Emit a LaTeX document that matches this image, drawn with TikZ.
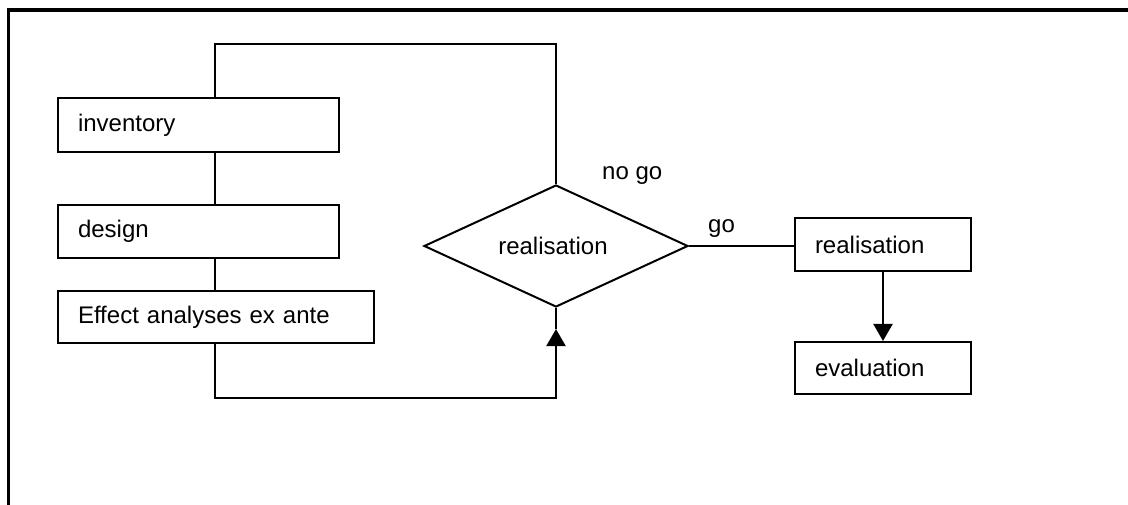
\documentclass[tikz,border=0pt]{standalone}
\usepackage{fontspec}
\setmainfont{Liberation Sans}
\usetikzlibrary{shapes.geometric,arrows.meta,calc}
\begin{document}
\begin{tikzpicture}[x=1pt,y=-1pt,
  font=\fontsize{24}{28}\selectfont,
  stepbox/.style={draw, line width=2pt, inner xsep=20pt, inner ysep=0pt, align=left, minimum height=#1},
  decision/.style={draw, line width=2pt, shape=diamond, aspect=2.16, inner sep=0pt, minimum width=264pt, minimum height=122pt},
  link/.style={line width=2pt},
  tip/.style={-{Triangle[width=19pt,length=17pt]}},
  label/.style={anchor=base west, inner sep=0pt}]
\useasboundingbox (0,0) rectangle (1128,505);
% open frame: top and left edges
\draw[line width=3.2pt] (8.5,505) -- (8.5,10) -- (1128,10);

% left column of steps
\node[stepbox=54pt, text width=241pt] (inv) at (198.5,125) {inventory};
\node[stepbox=53pt, text width=241pt] (des) at (198.5,231.5) {design};
\node[stepbox=52pt, text width=276pt] (eff) at (216,317) {Effect analyses ex ante};

% decision
\node[decision] (dia) at (556,246) {\hspace*{-6pt}realisation};

% right column
\node[stepbox=53pt, text width=136pt] (real) at (883,244.5) {realisation};
\node[stepbox=52pt, text width=136pt] (eval) at (883,368) {evaluation};

% spine of the left column
\coordinate (col) at (215,0);
\draw[link] (inv.south -| col) -- (des.north -| col);
\draw[link] (des.south -| col) -- (eff.north -| col);

% "no go" loop back to the inventory
\draw[link] (dia.north) -- ++(0,-140) -| (inv.north -| col);

% from the ex ante analyses into the decision
\coordinate (arr) at ($(dia.south)+(0,21)$);
\draw[link, tip] (eff.south -| col) -- ++(0,54) -| (arr);
\draw[link] (arr) -- (dia.south);

% "go" branch
\draw[line width=1.4pt] (dia.east) -- (dia.east -| real.west);
\draw[link, tip] (real.south) -- (eval.north);

% branch labels
\node[label] (nogo) at (602,180) {no go};
\node[label] (go) at (708,233) {go};
\end{tikzpicture}
\end{document}
